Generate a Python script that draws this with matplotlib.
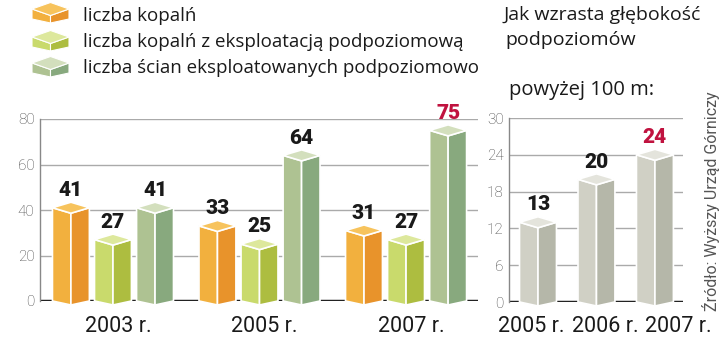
import matplotlib
matplotlib.use("Agg")
import matplotlib.pyplot as plt
from matplotlib.patches import Polygon

plt.rcParams['font.family'] = ['Roboto', 'DejaVu Sans']

# --- data ---
years_main = ['2003 r.', '2005 r.', '2007 r.']
liczba_kopaln = [41, 33, 31]
kopalnie_podpoziomowe = [27, 25, 27]
sciany_podpoziomowe = [41, 64, 75]

years_depth = ['2005 r.', '2006 r.', '2007 r.']
glebokosc_100m = [13, 20, 24]

series_names = ['liczba kopalń',
                'liczba kopalń z eksploatacją podpoziomową',
                'liczba ścian eksploatowanych podpoziomowo']

# face colours: left, right, top
ORANGE = ('#f2b03e', '#e8932b', '#f7c35c')
LIME = ('#c9da6c', '#adbd40', '#dde89c')
SAGE = ('#aec292', '#88a97e', '#d3dfbd')
STONE = ('#d0d0c5', '#b5b7a9', '#e4e4dc')
RED = '#c0123f'
INK = '#1a1a1a'
TEXT_FONT = ['Open Sans', 'DejaVu Sans']


def draw_box(ax, xc, value, half_w, colors, top_px=5.5, foot_px=4):
    # pseudo 3D column, depth given in pixels and converted to data units
    ppu = ax.get_window_extent().height / (ax.get_ylim()[1] - ax.get_ylim()[0])
    dy = top_px / ppu
    fy = foot_px / ppu
    left = [(xc - half_w, 0), (xc - half_w, value), (xc, value - dy), (xc, -fy)]
    right = [(xc, -fy), (xc, value - dy), (xc + half_w, value), (xc + half_w, 0)]
    top = [(xc - half_w, value), (xc, value + dy), (xc + half_w, value), (xc, value - dy)]
    for pts, col in zip((left, right, top), colors):
        ax.add_patch(Polygon(pts, closed=True, fc=col, ec='white', lw=1.2,
                             clip_on=False, zorder=3))


def style_axis(ax, ticks):
    ax.set_yticks(ticks)
    ax.set_xticks([])
    ax.tick_params(axis='y', length=0, pad=4, labelsize=11, labelcolor='#444444')
    for lab in ax.get_yticklabels():
        lab.set_fontweight('light')
    for s in ['top', 'right', 'bottom']:
        ax.spines[s].set_visible(False)
    ax.spines['left'].set_color('#888888')
    ax.spines['left'].set_linewidth(1)
    for t in ticks[1:]:
        ax.axhline(t, color='#aaaaaa', lw=1, zorder=1)
    ax.axhline(0, color='#222222', lw=2.5, zorder=2)


def value_label(ax, x, v, color=INK):
    ax.annotate(str(v), (x, v), xytext=(0, 8.5), textcoords='offset points',
                ha='center', va='baseline', fontsize=15, fontweight='heavy',
                color=color, zorder=4)


fig = plt.figure(figsize=(7.2, 3.42), dpi=100)

# --- left chart ---
ax1 = fig.add_axes([40 / 720, 41 / 342, 438 / 720, 182 / 342])
ax1.set_xlim(-0.498, 2.491)
ax1.set_ylim(0, 80)
style_axis(ax1, [0, 20, 40, 60, 80])

offset = 0.287
half_w = 0.126
all_series = [liczba_kopaln, kopalnie_podpoziomowe, sciany_podpoziomowe]
palette = [ORANGE, LIME, SAGE]
top_value = max(max(s) for s in all_series)
for k, (vals, cols) in enumerate(zip(all_series, palette)):
    for i, v in enumerate(vals):
        xc = i + (k - 1) * offset
        draw_box(ax1, xc, v, half_w, cols)
        value_label(ax1, xc, v, RED if v == top_value else INK)

for i, year in enumerate(years_main):
    ax1.annotate(year, (i, 0), xytext=(5, -31), textcoords='offset pixels',
                 ha='center', va='baseline', fontsize=15.5, color=INK)

# --- right chart ---
ax2 = fig.add_axes([509 / 720, 40 / 342, 174 / 720, 184 / 342])
ax2.set_xlim(-0.496, 2.48)
ax2.set_ylim(0, 30)
style_axis(ax2, [0, 6, 12, 18, 24, 30])
for i, v in enumerate(glebokosc_100m):
    draw_box(ax2, i, v, 0.316, STONE)
    value_label(ax2, i, v, RED if v == max(glebokosc_100m) else INK)

# --- overlay for legend, headings, year row and source ---
ov = fig.add_axes([0, 0, 1, 1], zorder=-1)
ov.set_xlim(0, 720)
ov.set_ylim(342, 0)
ov.axis('off')

for i, year in enumerate(years_depth):
    ov.text(498 + i * 73.5, 332, year, fontsize=15.5, color=INK,
            ha='left', va='baseline')

legend_rows = [21, 47, 73]
swatch_rows = [9, 37, 63]
for name, cols, base, yv in zip(series_names, palette, legend_rows, swatch_rows):
    cx, hw, rh, sh = 50.5, 18.5, 6.5, 10
    left = [(cx - hw, yv), (cx - hw, yv + sh), (cx, yv + sh + rh - 2.5), (cx, yv + rh)]
    right = [(cx, yv + rh), (cx, yv + sh + rh - 2.5), (cx + hw, yv + sh), (cx + hw, yv)]
    top = [(cx - hw, yv), (cx, yv - rh), (cx + hw, yv), (cx, yv + rh)]
    for pts, col in zip((left, right, top), cols):
        ov.add_patch(Polygon(pts, closed=True, fc=col, ec='white', lw=0.8))
    ov.text(83, base, name, fontsize=13.5, color=INK, va='baseline', ha='left',
            family=TEXT_FONT)

ov.text(503, 20, 'Jak wzrasta głębokość', fontsize=14, color=INK,
        va='baseline', family=TEXT_FONT)
ov.text(505, 45, 'podpoziomów', fontsize=14, color=INK, va='baseline',
        family=TEXT_FONT)
ov.text(509, 95, 'powyżej 100 m:', fontsize=14.5, color=INK, va='baseline',
        family=TEXT_FONT)
ov.text(711, 201, 'Źródło: Wyższy Urząd Górniczy', rotation=90, fontsize=11.5,
        color='#555555', ha='center', va='center')

fig.savefig('out.png', dpi=100)
